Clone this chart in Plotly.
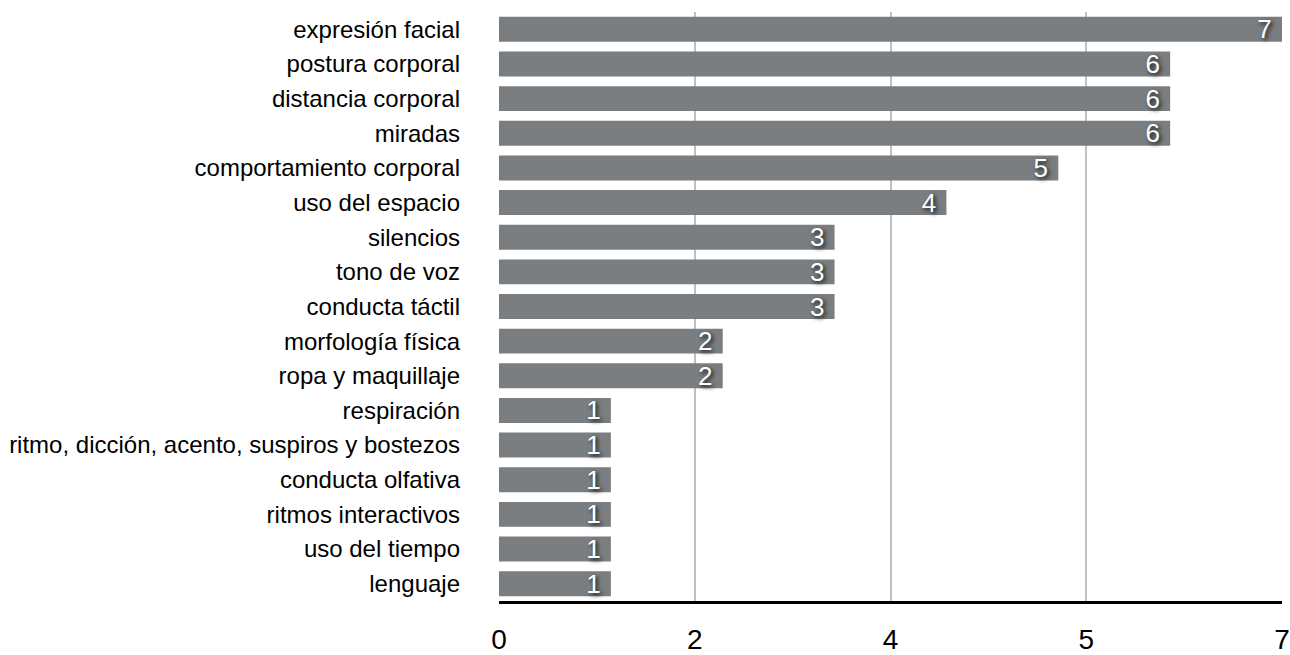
import plotly.graph_objects as go

categories = [
    "expresión facial", "postura corporal", "distancia corporal", "miradas",
    "comportamiento corporal", "uso del espacio", "silencios", "tono de voz",
    "conducta táctil", "morfología física", "ropa y maquillaje", "respiración",
    "ritmo, dicción, acento, suspiros y bostezos", "conducta olfativa",
    "ritmos interactivos", "uso del tiempo", "lenguaje",
]
values = [7, 6, 6, 6, 5, 4, 3, 3, 3, 2, 2, 1, 1, 1, 1, 1, 1]
tick_vals = [0, 1.75, 3.5, 5.25, 7]
tick_text = ["0", "2", "4", "5", "7"]

fig = go.Figure(go.Bar(
    x=values, y=categories, orientation="h",
    marker=dict(color="#7a7e80", line=dict(width=0)),
    text=[str(v) for v in values], texttemplate="%{text}\u00a0",
    textposition="inside",
    insidetextanchor="end", textangle=0, constraintext="none",
    textfont=dict(family="Liberation Sans, Arial", size=26, color="white",
                  shadow="2px 2px 4px #111"),
    cliponaxis=False,
))

fig.update_layout(
    width=1290, height=655,
    margin=dict(l=499, r=8, t=12, b=54, autoexpand=False),
    plot_bgcolor="white", paper_bgcolor="white",
    bargap=0.28,
    showlegend=False,
    font=dict(family="Liberation Sans, Arial", color="black"),
)
fig.update_xaxes(
    range=[0, 7], tickvals=tick_vals, ticktext=tick_text,
    showgrid=True, gridcolor="#c0c0c0", gridwidth=2,
    zeroline=False, showline=True, linecolor="black", linewidth=3,
    tickfont=dict(size=28), ticks="", ticklabelstandoff=11, automargin=False,
)
fig.update_yaxes(
    categoryorder="array", categoryarray=categories, autorange="reversed",
    tickfont=dict(size=24), ticks="", ticklabelstandoff=38, automargin=False,
    showgrid=False, showline=False,
)

fig.write_html(
    "out.html",
    config={"displayModeBar": False},
    post_script="document.body.style.margin='0';"
                "document.documentElement.style.overflow='hidden';"
                "document.body.style.overflow='hidden';",
)
